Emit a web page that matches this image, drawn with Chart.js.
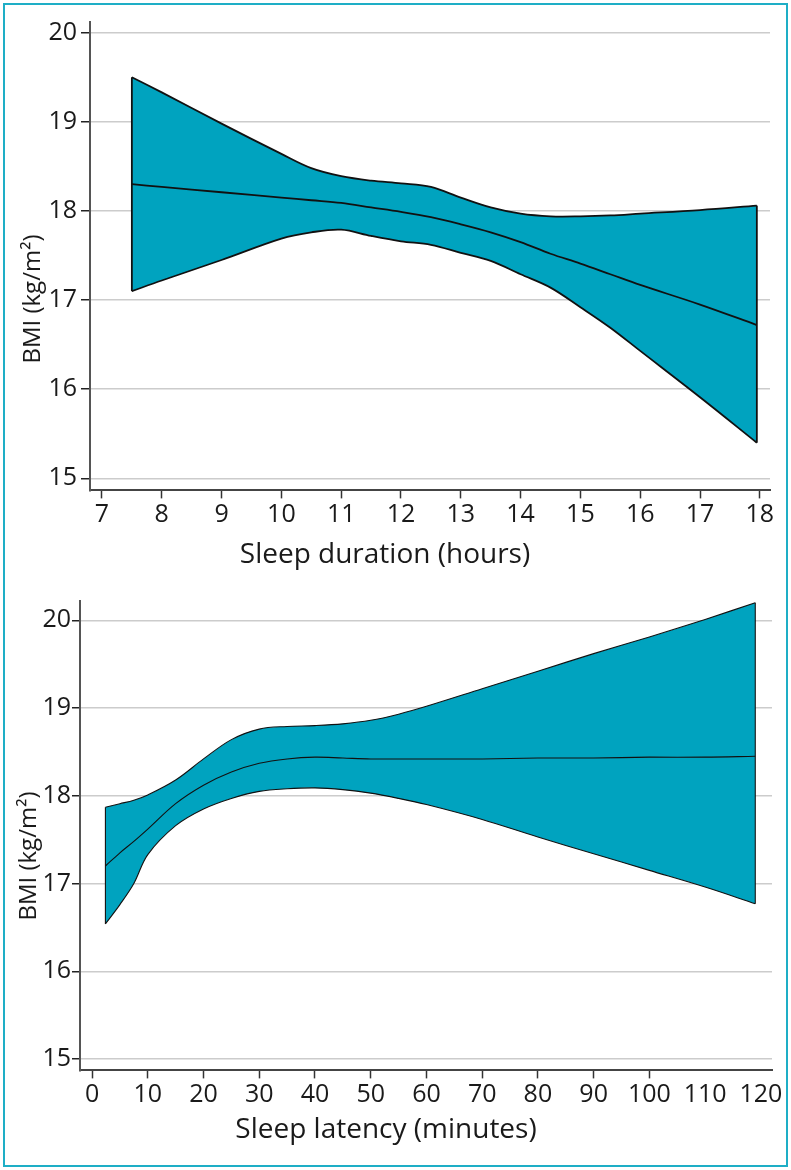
<!DOCTYPE html>
<html>
<head>
<meta charset="utf-8">
<script src="https://cdn.jsdelivr.net/npm/chart.js@4.4.1/dist/chart.umd.min.js"></script>
<style>
  html, body { margin: 0; padding: 0; background: #fff; }
  #page { position: relative; width: 791px; height: 1170px; }
  .panel { position: absolute; left: 0; width: 791px; height: 585px; }
  #frame { position: absolute; left: 3px; top: 3px; width: 781px; height: 1160px;
           border: 2px solid #1eaec6; pointer-events: none; }
</style>
</head>
<body>
<div id="page">
  <div class="panel" style="top:0"><canvas id="duration"></canvas></div>
  <div class="panel" style="top:585px"><canvas id="latency"></canvas></div>
  <div id="frame"></div>
</div>
<script>
// BMI vs sleep duration (hours)
var durX     = [7.5, 8, 9, 10, 10.5, 11, 11.5, 12, 12.5, 13, 13.5, 14, 14.5, 15, 15.5, 16, 17, 17.95];
var durUpper = [19.5, 19.33, 18.98, 18.64, 18.48, 18.39, 18.34, 18.31, 18.27, 18.15, 18.04, 17.97, 17.94, 17.94, 17.95, 17.97, 18.01, 18.06];
var durMid   = [18.3, 18.27, 18.21, 18.15, 18.12, 18.09, 18.04, 17.99, 17.93, 17.85, 17.76, 17.65, 17.52, 17.41, 17.29, 17.17, 16.95, 16.72];
var durLower = [17.1, 17.22, 17.45, 17.69, 17.76, 17.79, 17.72, 17.66, 17.62, 17.53, 17.44, 17.29, 17.14, 16.92, 16.69, 16.43, 15.91, 15.4];
var durTicks = [7, 8, 9, 10, 11, 12, 13, 14, 15, 16, 17, 18];

// BMI vs sleep latency (minutes)
var latX     = [2.4, 5, 7.5, 10, 15, 20, 25, 30, 35, 40, 45, 50, 55, 60, 70, 80, 90, 100, 110, 119];
var latUpper = [17.87, 17.91, 17.95, 18.01, 18.18, 18.42, 18.64, 18.76, 18.79, 18.8, 18.82, 18.86, 18.93, 19.02, 19.22, 19.42, 19.62, 19.81, 20.01, 20.2];
var latMid   = [17.2, 17.35, 17.48, 17.62, 17.91, 18.12, 18.27, 18.37, 18.42, 18.44, 18.43, 18.42, 18.42, 18.42, 18.42, 18.43, 18.43, 18.44, 18.44, 18.45];
var latLower = [16.54, 16.76, 17.0, 17.33, 17.66, 17.85, 17.97, 18.05, 18.08, 18.09, 18.07, 18.03, 17.97, 17.9, 17.73, 17.53, 17.34, 17.15, 16.96, 16.77];
var latTicks = [0, 10, 20, 30, 40, 50, 60, 70, 80, 90, 100, 110, 120];

var bmiTicks = [15, 16, 17, 18, 19, 20];

Chart.defaults.font.family = "'Open Sans', sans-serif";
Chart.defaults.color = '#1a1a1a';

var TEAL = '#00a3bf';
var INK = '#111';

function pts(xs, ys) {
  return xs.map(function (x, i) { return { x: x, y: ys[i] }; });
}

// rotated y title drawn at a fixed spot
var yTitle = {
  id: 'yTitle',
  afterDraw: function (chart, args, opts) {
    var ctx = chart.ctx;
    ctx.save();
    ctx.translate(opts.x, opts.y);
    ctx.rotate(-Math.PI / 2);
    ctx.font = '24px "Open Sans"';
    ctx.fillStyle = '#1a1a1a';
    ctx.textAlign = 'center';
    ctx.textBaseline = 'middle';
    ctx.fillText(opts.text, 0, 0);
    ctx.restore();
  }
};

function makeChart(id, cfg) {
  var n = cfg.xs.length - 1;
  var line = { borderColor: INK, borderWidth: cfg.lw, pointRadius: 0, tension: 0.35, clip: false };
  new Chart(document.getElementById(id).getContext('2d'), {
    type: 'line',
    data: {
      datasets: [
        Object.assign({ data: pts(cfg.xs, cfg.upper), fill: '+1', backgroundColor: TEAL }, line),
        Object.assign({ data: pts(cfg.xs, cfg.lower), fill: false }, line),
        Object.assign({ data: pts(cfg.xs, cfg.mid), fill: false }, line),
        Object.assign({ data: [{ x: cfg.xs[0], y: cfg.upper[0] }, { x: cfg.xs[0], y: cfg.lower[0] }], fill: false }, line),
        Object.assign({ data: [{ x: cfg.xs[n], y: cfg.upper[n] }, { x: cfg.xs[n], y: cfg.lower[n] }], fill: false }, line)
      ]
    },
    options: {
      responsive: true,
      maintainAspectRatio: false,
      animation: false,
      layout: { padding: { left: 0, right: cfg.padRight, top: cfg.padTop, bottom: 0 } },
      plugins: {
        legend: { display: false },
        tooltip: { enabled: false },
        filler: { drawTime: 'beforeDatasetsDraw' },
        title: {
          display: true,
          position: 'bottom',
          text: cfg.xTitle,
          color: '#1a1a1a',
          font: { size: 28, weight: 'normal' },
          padding: { top: cfg.titleTop, bottom: cfg.titleBottom }
        },
        yTitle: { text: 'BMI (kg/m²)', x: cfg.yTitleX, y: cfg.yTitleY }
      },
      scales: {
        x: {
          type: 'linear',
          min: cfg.xMin,
          max: cfg.xMax,
          afterFit: function (s) { s.height = 40; },
          afterBuildTicks: function (s) { s.ticks = cfg.xTicks.map(function (v) { return { value: v }; }); },
          border: { color: '#444', width: 2 },
          grid: {
            drawOnChartArea: false,
            tickLength: 8,
            tickWidth: 1.5,
            tickColor: function (c) { return c.tick && c.tick.value > cfg.lastMark ? 'rgba(0,0,0,0)' : '#333'; }
          },
          ticks: { font: { size: 25 }, color: '#1a1a1a', padding: 1, maxRotation: 0, autoSkip: false }
        },
        y: {
          min: cfg.yMin,
          max: cfg.yMax,
          afterFit: function (s) { s.width = cfg.axisLeft; },
          afterBuildTicks: function (s) { s.ticks = bmiTicks.map(function (v) { return { value: v }; }); },
          border: { color: '#555', width: 2 },
          grid: { color: '#cccccc', lineWidth: 1.5, tickLength: cfg.yTick, tickColor: '#222', tickWidth: 1.5 },
          ticks: { font: { size: 25 }, color: '#1a1a1a', padding: cfg.yPad }
        }
      }
    },
    plugins: [yTitle]
  });
}

makeChart('duration', {
  xs: durX, upper: durUpper, mid: durMid, lower: durLower, xTicks: durTicks,
  xMin: 6.8, xMax: 18.17, yMin: 14.865, yMax: 20.12,
  xTitle: 'Sleep duration (hours)', lw: 1.8,
  padRight: 21, padTop: 22, axisLeft: 90, yTick: 9, yPad: 4,
  titleTop: 8, titleBottom: 13, yTitleX: 33, yTitleY: 299, lastMark: 99
});

makeChart('latency', {
  xs: latX, upper: latUpper, mid: latMid, lower: latLower, xTicks: latTicks,
  xMin: -2.16, xMax: 122, yMin: 14.87, yMax: 20.22,
  xTitle: 'Sleep latency (minutes)', lw: 1.1,
  padRight: 19, padTop: 16, axisLeft: 80, yTick: 8, yPad: 1,
  titleTop: 3, titleBottom: 23, yTitleX: 29, yTitleY: 271, lastMark: 100
});
</script>
</body>
</html>
